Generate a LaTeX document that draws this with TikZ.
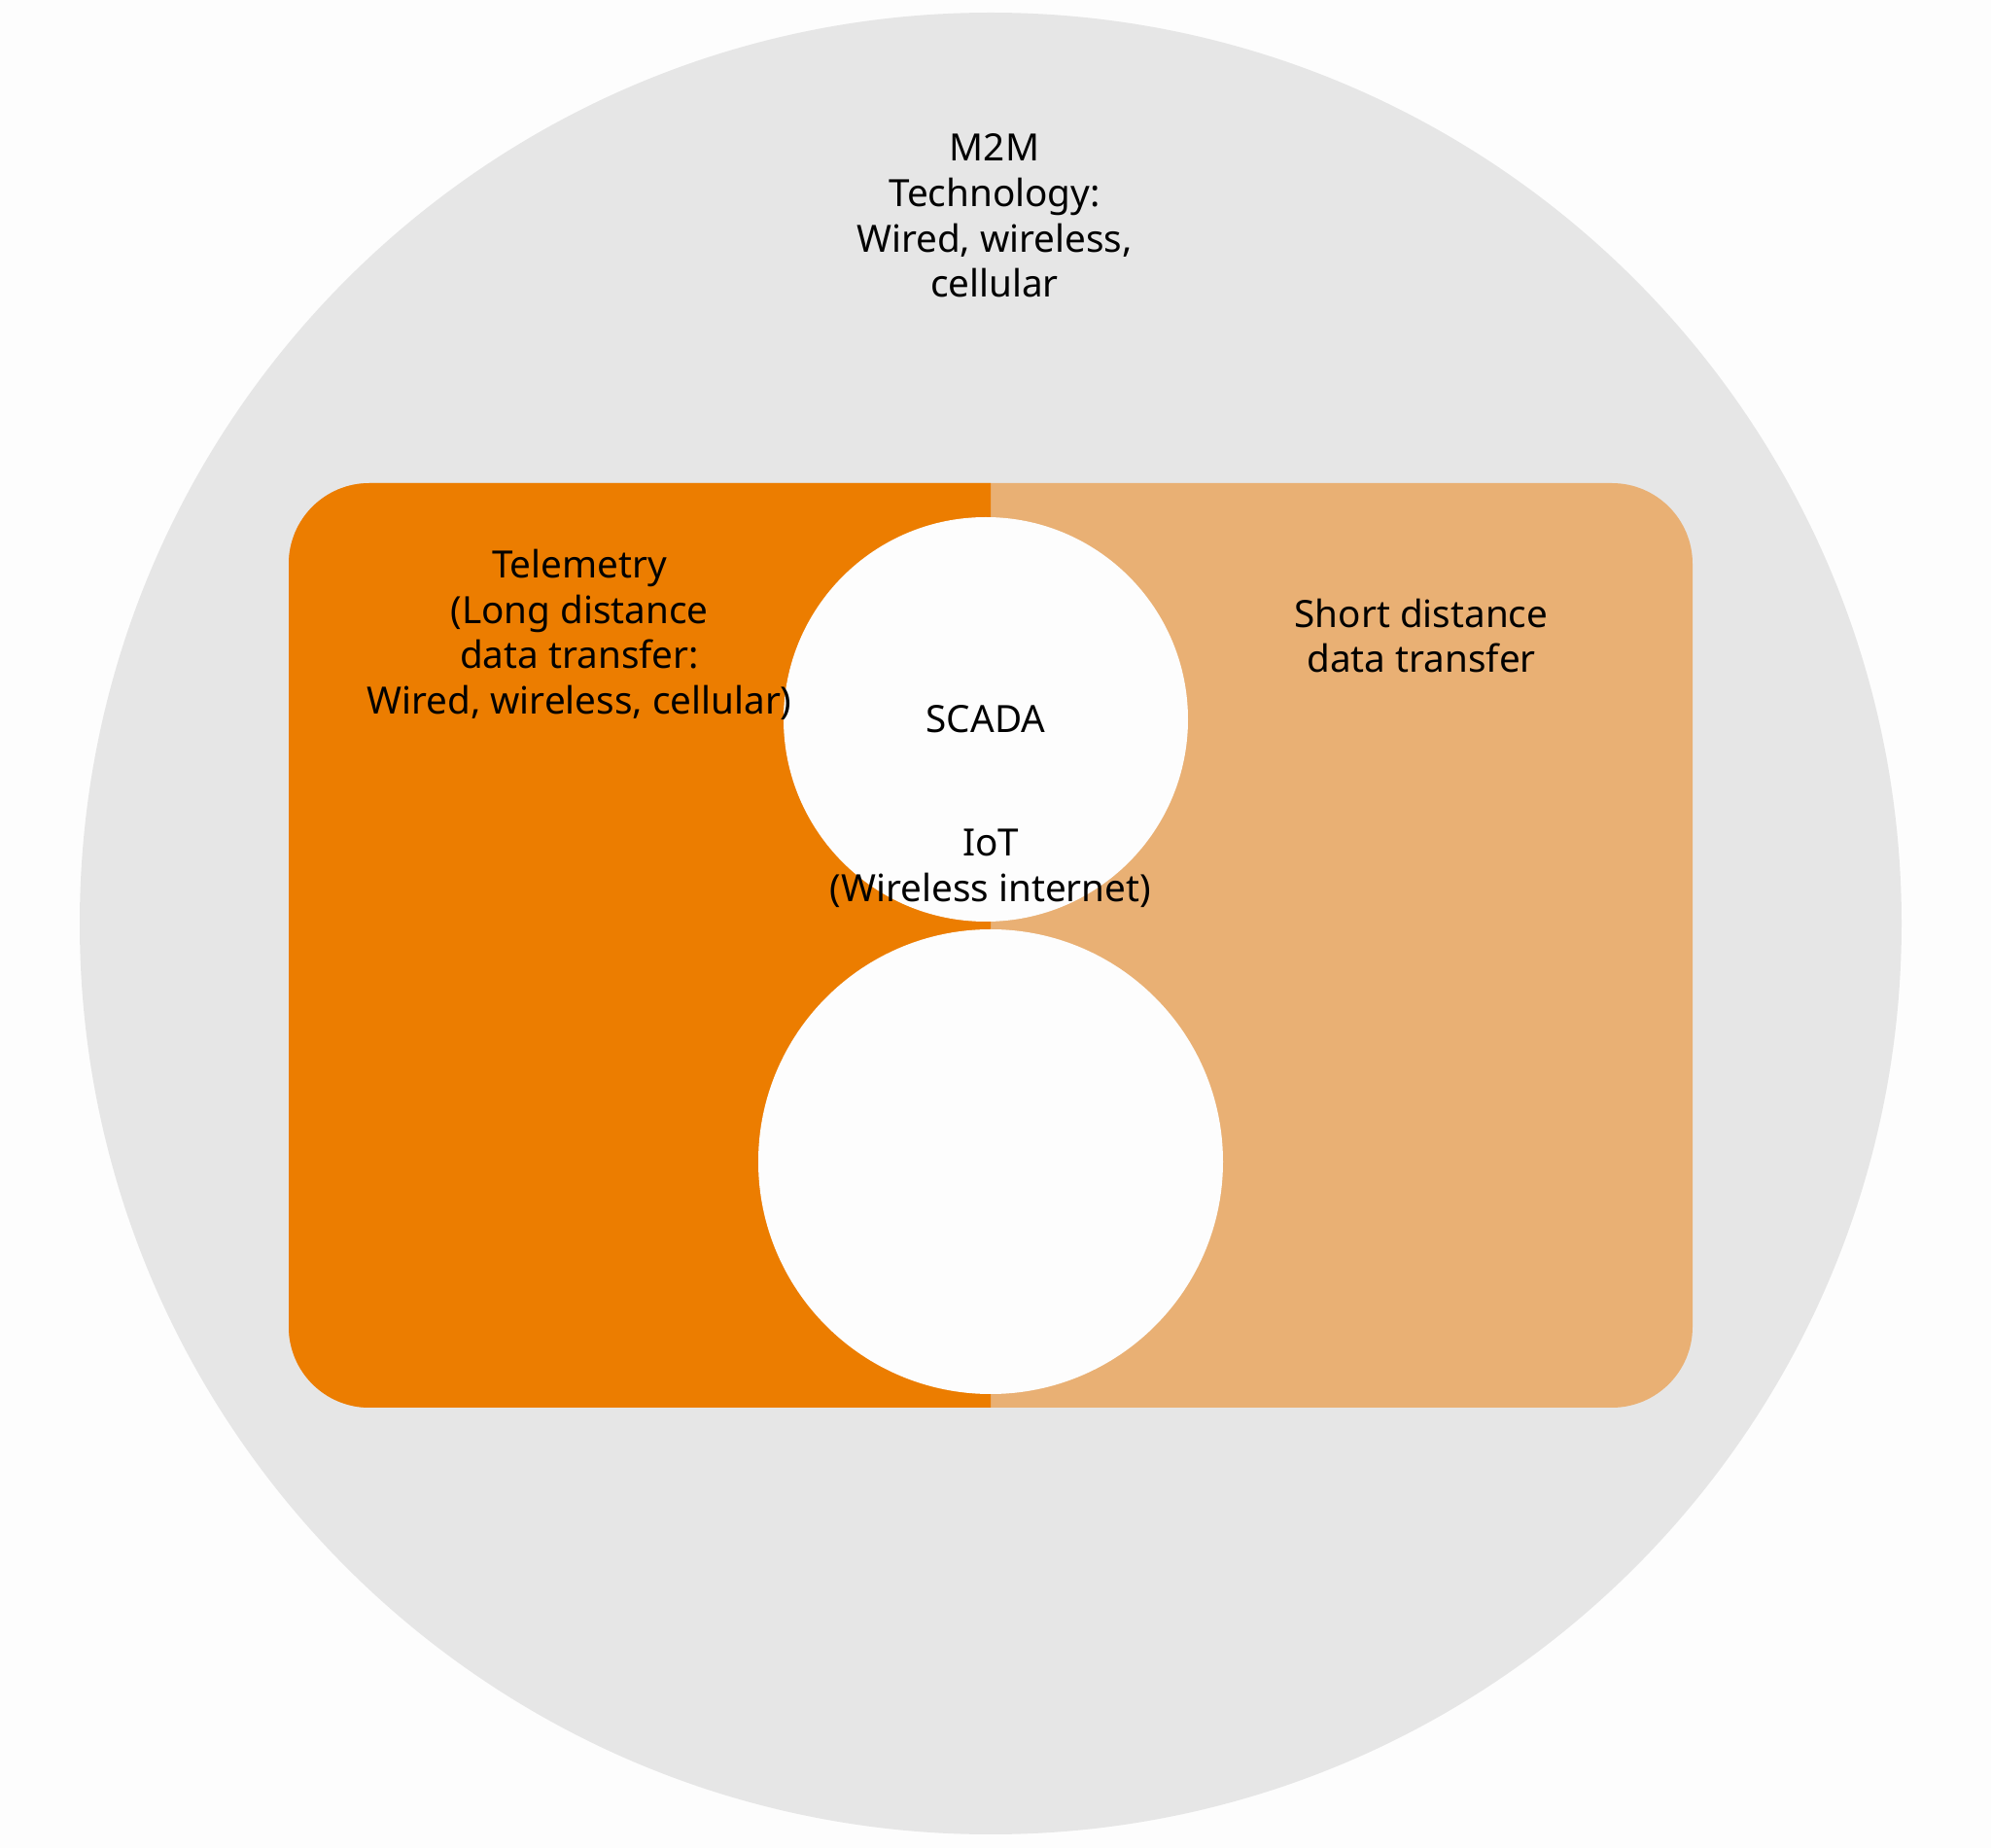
\documentclass[tikz,border=0pt]{standalone}
\usepackage{fontspec}
\setmainfont{Noto Sans}
\definecolor{bgwhite}{HTML}{FDFDFD}
\definecolor{m2mgray}{HTML}{E6E6E6}
\definecolor{teleorange}{HTML}{EC7D00}
\definecolor{shortorange}{HTML}{E9B074}
\tikzset{
  label/.style={align=center, font=\fontsize{11}{13.3}\selectfont},
  boldlabel/.style={label, font=\fontsize{11}{13.3}\selectfont\bfseries},
  hole/.style={circle, fill=bgwhite, inner sep=0pt}
}
\begin{document}
\begin{tikzpicture}
    \fill[bgwhite] (0,0) rectangle (20.48,19.01);
    \useasboundingbox (0,0) rectangle (20.48,19.01);
    \fill[m2mgray] (10.19,9.51) circle (9.37);

    \fill[shortorange, rounded corners=0.83cm] (2.97,4.53) rectangle (17.41,14.04);
    \begin{scope}
      \clip (2.9,4.4) rectangle (10.19,14.1);
      \fill[teleorange, rounded corners=0.83cm] (2.97,4.53) rectangle (17.41,14.04);
    \end{scope}

    \node[hole, minimum size=4.16cm] (scada) at (10.14,11.61) {};
    \node[hole, minimum size=4.78cm] (iot) at (10.19,7.06) {};

    \node[boldlabel] (m2m) at (10.23,16.79) {M2M\\Technology:\\Wired, wireless,\\cellular};
    \node[label] (tele) at (5.96,12.48) {Telemetry\\(Long distance\\data transfer:\\Wired, wireless, cellular)};
    \node[label] (short) at (14.62,12.47) {Short distance\\data transfer};
    \node[boldlabel] at (scada) {SCADA};
    \node[boldlabel] at (10.19,10.08) {IoT\\(Wireless internet)};
\end{tikzpicture}
\end{document}
